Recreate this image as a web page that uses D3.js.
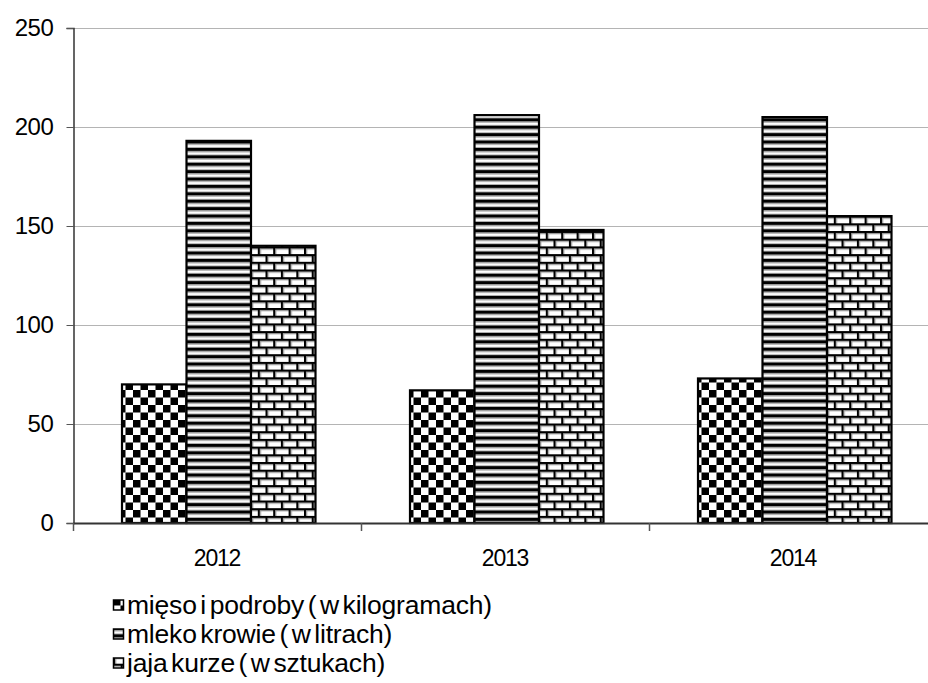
<!DOCTYPE html>
<html>
<head>
<meta charset="utf-8">
<script src="https://cdn.jsdelivr.net/npm/d3@7/dist/d3.min.js"></script>
<style>
  html, body { margin: 0; padding: 0; background: #fff; }
  svg { display: block; font-family: "Liberation Sans", Arial, sans-serif; }
</style>
</head>
<body>
<svg id="chart" width="928" height="683"></svg>
<script>
const years = ["2012", "2013", "2014"];
const seriesNames = ["mięso i podroby ( w kilogramach)", "mleko krowie ( w litrach)", "jaja kurze ( w sztukach)"];
const mieso = [70, 67, 73];
const mleko = [193, 206, 205];
const jaja = [140, 148, 155];
const yTicks = [0, 50, 100, 150, 200, 250];

const series = [mieso, mleko, jaja];
const patternIds = ["pCheck", "pStripe", "pBrick"];

const svg = d3.select("#chart");
const x0 = 73, x1 = 937, yTop = 28, yBot = 523;

const defs = svg.append("defs");
// checkerboard
const pc = defs.append("pattern").attr("id", "pCheck").attr("patternUnits", "userSpaceOnUse")
  .attr("width", 15).attr("height", 15);
pc.append("rect").attr("width", 15).attr("height", 15).attr("fill", "#fff");
pc.append("rect").attr("x", 0).attr("y", 0).attr("width", 7.5).attr("height", 7.5).attr("fill", "#000");
pc.append("rect").attr("x", 7.5).attr("y", 7.5).attr("width", 7.5).attr("height", 7.5).attr("fill", "#000");
// horizontal stripes
const ps = defs.append("pattern").attr("id", "pStripe").attr("patternUnits", "userSpaceOnUse")
  .attr("width", 8).attr("height", 7.4);
ps.append("rect").attr("width", 8).attr("height", 7.4).attr("fill", "#fff");
ps.append("rect").attr("y", 0).attr("width", 8).attr("height", 3).attr("fill", "#000");
ps.append("rect").attr("y", 3).attr("width", 8).attr("height", 1.2).attr("fill", "#888");
ps.append("rect").attr("y", 6.4).attr("width", 8).attr("height", 1).attr("fill", "#aaa");
// brick
const pb = defs.append("pattern").attr("id", "pBrick").attr("patternUnits", "userSpaceOnUse")
  .attr("width", 15.4).attr("height", 15.4);
pb.append("rect").attr("width", 15.4).attr("height", 15.4).attr("fill", "#fff");
pb.append("rect").attr("x", 0).attr("y", 2).attr("width", 15.4).attr("height", 1.2).attr("fill", "#999");
pb.append("rect").attr("x", 0).attr("y", 9.7).attr("width", 15.4).attr("height", 1.2).attr("fill", "#999");
pb.append("rect").attr("x", 0).attr("y", 0).attr("width", 15.4).attr("height", 2).attr("fill", "#000");
pb.append("rect").attr("x", 0).attr("y", 7.7).attr("width", 15.4).attr("height", 2).attr("fill", "#000");
pb.append("rect").attr("x", 0).attr("y", 0).attr("width", 2).attr("height", 7.7).attr("fill", "#000");
pb.append("rect").attr("x", 2).attr("y", 2).attr("width", 1.2).attr("height", 5.7).attr("fill", "#999");
pb.append("rect").attr("x", 7.7).attr("y", 7.7).attr("width", 2).attr("height", 7.7).attr("fill", "#000");
pb.append("rect").attr("x", 9.7).attr("y", 9.7).attr("width", 1.2).attr("height", 5.7).attr("fill", "#999");

const y = d3.scaleLinear().domain([0, 250]).range([yBot, yTop]);
const xBand = d3.scaleBand().domain(years).range([x0, x1]).paddingInner(0).paddingOuter(0);
const xInner = d3.scaleBand().domain([0, 1, 2]).range([49, 49 + 193.5]).padding(0);

// gridlines
svg.append("g").selectAll("line").data(yTicks.filter(d => d > 0)).join("line")
  .attr("x1", x0).attr("x2", x1)
  .attr("y1", d => Math.round(y(d)) + 0.5).attr("y2", d => Math.round(y(d)) + 0.5)
  .attr("stroke", "#b4b4b4").attr("stroke-width", 1);

// bars
const groups = svg.append("g").selectAll("g").data(years).join("g")
  .attr("transform", d => `translate(${xBand(d)},0)`);
groups.selectAll("rect").data((d, i) => series.map((s, k) => ({ k, v: s[i] }))).join("rect")
  .attr("x", d => xInner(d.k))
  .attr("y", d => y(d.v))
  .attr("width", xInner.bandwidth())
  .attr("height", d => yBot - y(d.v))
  .attr("fill", d => `url(#${patternIds[d.k]})`)
  .attr("stroke", "#000").attr("stroke-width", 2.2);

// y axis
const yAxis = d3.axisLeft(y).tickValues(yTicks).tickSize(7).tickPadding(13);
const gy = svg.append("g").attr("transform", `translate(${x0 + 0.5},0)`).call(yAxis);
gy.select(".domain").attr("stroke", "#333").attr("stroke-width", 1.5);
gy.selectAll(".tick line").attr("stroke", "#555");
gy.selectAll("text").attr("font-size", 24).attr("fill", "#000")
  .attr("font-family", "'Liberation Sans', Arial, sans-serif").attr("letter-spacing", -0.4);

// x axis
const xAxis = d3.axisBottom(xBand).tickSize(0).tickPadding(27);
const gx = svg.append("g").attr("transform", `translate(0,${yBot})`).call(xAxis);
gx.select(".domain").attr("stroke", "#333").attr("stroke-width", 2);
gx.selectAll("text").attr("font-size", 23).attr("fill", "#000")
  .attr("font-family", "'Liberation Sans', Arial, sans-serif").attr("letter-spacing", -1.2);
// category separator ticks
svg.append("g").selectAll("line").data(years.map(d => xBand(d)).concat([x1])).join("line")
  .attr("x1", d => d + 0.5).attr("x2", d => d + 0.5)
  .attr("y1", yBot).attr("y2", yBot + 8)
  .attr("stroke", "#555").attr("stroke-width", 1.5);

// legend
const legend = svg.append("g").attr("transform", "translate(113,598)");
const li = legend.selectAll("g").data(seriesNames).join("g")
  .attr("transform", (d, i) => `translate(0,${i * 29})`);
li.append("rect").attr("x", 0.5).attr("y", 2).attr("width", 10).attr("height", 10)
  .attr("fill", (d, i) => `url(#${patternIds[i]})`).attr("stroke", "#000").attr("stroke-width", 1.5);
li.append("text").attr("x", 14).attr("y", 15.5).text(d => d)
  .attr("font-size", 26.5).attr("letter-spacing", -0.2).attr("word-spacing", -3.5).attr("fill", "#000");
</script>
</body>
</html>
